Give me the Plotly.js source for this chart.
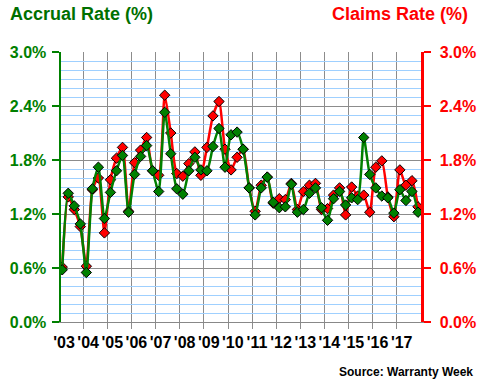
<!DOCTYPE html>
<html>
<head>
<meta charset="utf-8">
<script src="https://cdn.plot.ly/plotly-3.0.1.min.js"></script>
<style>html,body{margin:0;padding:0;background:#fff;}#chart{width:480px;height:380px;}</style>
</head>
<body>
<div id="chart"></div>
<script>
// Quarterly rates, 2003 Q1 .. 2017 Q4 (percent)
const yearLabels = ["'03","'04","'05","'06","'07","'08","'09","'10","'11","'12","'13","'14","'15","'16","'17"];
const accrualRate = [0.58,1.43,1.29,1.09, 0.55,1.48,1.72,1.15, 1.44,1.68,1.85,1.22, 1.64,1.84,1.96,1.68,
  1.45,2.33,1.87,1.48, 1.42,1.68,1.83,1.69, 1.68,1.95,2.15,1.72, 2.08,2.11,1.92,1.49,
  1.19,1.49,1.61,1.33, 1.27,1.28,1.53,1.22, 1.25,1.43,1.49,1.27, 1.13,1.37,1.45,1.30,
  1.38,1.36,2.05,1.64, 1.49,1.40,1.38,1.21, 1.47,1.35,1.45,1.22];
const claimsRate = [0.61,1.39,1.25,1.06, 0.62,1.47,1.60,0.99, 1.58,1.82,1.94,1.23, 1.77,1.91,2.05,1.68,
  1.63,2.52,2.10,1.65, 1.62,1.76,1.89,1.63, 1.94,2.29,2.45,1.92, 1.69,1.83,1.92,1.49,
  1.23,1.52,1.61,1.32, 1.37,1.36,1.54,1.25, 1.45,1.52,1.54,1.25, 1.26,1.41,1.49,1.19,
  1.50,1.40,1.41,1.22, 1.72,1.79,1.39,1.17, 1.69,1.52,1.57,1.28];

const qIndex = accrualRate.map((_, i) => i);
const labelPos = yearLabels.map((_, k) => 4 * k + 0.3);
const yearBounds = yearLabels.slice(1).map((_, k) => 4 * k + 3.5);

const GREEN = '#008000', RED = '#ff0000';
const FONT = 'Liberation Sans, Arial, sans-serif';

// both axes share the same 0–3% range; green is placed on the overlay axis so it draws on top
const traces = [
  {x: qIndex, y: claimsRate, type: 'scatter', mode: 'lines+markers', name: 'Claims Rate',
   xaxis: 'x', yaxis: 'y',
   line: {color: RED, width: 2.5, shape: 'spline', smoothing: 0.6},
   marker: {symbol: 'diamond', size: 8, color: RED, line: {color: '#000', width: 1}}},
  {x: qIndex, y: accrualRate, type: 'scatter', mode: 'lines+markers', name: 'Accrual Rate',
   xaxis: 'x', yaxis: 'y2',
   line: {color: GREEN, width: 2.5, shape: 'spline', smoothing: 0.6},
   marker: {symbol: 'diamond', size: 8, color: GREEN, line: {color: '#000', width: 1}}}
];

const layout = {
  width: 480, height: 380,
  margin: {l: 61, r: 59, t: 52, b: 58, pad: 0},
  paper_bgcolor: '#fff', plot_bgcolor: '#fff',
  showlegend: false,
  font: {family: FONT},
  xaxis: {
    range: [-0.2, 59.5], tickmode: 'array', tickvals: labelPos, ticktext: yearLabels,
    showgrid: false, zeroline: false, ticks: '', showline: true, linecolor: '#888', linewidth: 1,
    tickfont: {family: FONT, size: 16, color: '#000', weight: 'bold'},
    ticklabelstandoff: 6,
    minor: {tickmode: 'array', tickvals: yearBounds, showgrid: true, gridcolor: '#8c8c8c', gridwidth: 1,
            ticks: 'outside', ticklen: 6, tickcolor: '#8c8c8c', tickwidth: 1}
  },
  yaxis: {
    range: [0, 3.0], tickmode: 'linear', tick0: 0, dtick: 0.6, tickformat: '.1f', ticksuffix: '%',
    showgrid: true, gridcolor: '#8c8c8c', gridwidth: 1, zeroline: false,
    showline: true, linecolor: GREEN, linewidth: 2.5,
    ticks: 'outside', ticklen: 7, tickwidth: 2, tickcolor: GREEN,
    tickfont: {family: FONT, size: 16, color: GREEN, weight: 'bold'},
    ticklabelstandoff: 2,
    minor: {dtick: 0.1, showgrid: true, gridcolor: '#9fd0ff', gridwidth: 1}
  },
  yaxis2: {
    range: [0, 3.0], overlaying: 'y', side: 'right', tickmode: 'linear', tick0: 0, dtick: 0.6,
    tickformat: '.1f', ticksuffix: '%', showgrid: false, zeroline: false,
    showline: true, linecolor: RED, linewidth: 2.5,
    ticks: 'outside', ticklen: 7, tickwidth: 2, tickcolor: RED,
    tickfont: {family: FONT, size: 16, color: RED, weight: 'bold'},
    ticklabelstandoff: 6
  },
  annotations: [
    {text: 'Accrual Rate (%)', xref: 'paper', yref: 'paper', x: -61/360, y: 1 + 38/270,
     xanchor: 'left', yanchor: 'middle', showarrow: false,
     font: {family: FONT, size: 18, color: '#007000', weight: 'bold'}, xshift: 8},
    {text: 'Claims Rate (%)', xref: 'paper', yref: 'paper', x: 1 + 49/360, y: 1 + 38/270,
     xanchor: 'right', yanchor: 'middle', showarrow: false,
     font: {family: FONT, size: 18, color: RED, weight: 'bold'}},
    {text: 'Source: Warranty Week', xref: 'paper', yref: 'paper', x: 1 + 54/360, y: -50/270,
     xanchor: 'right', yanchor: 'middle', showarrow: false,
     font: {family: FONT, size: 12, color: '#000', weight: 'bold'}}
  ]
};

Plotly.newPlot('chart', traces, layout, {staticPlot: true, displayModeBar: false});
</script>
</body>
</html>
